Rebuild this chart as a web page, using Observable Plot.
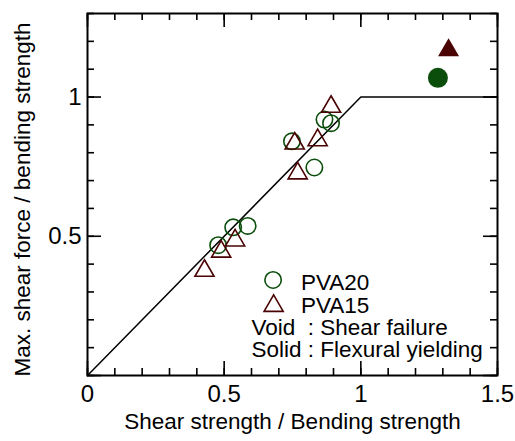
<!DOCTYPE html>
<html><head><meta charset="utf-8">
<script src="https://cdn.jsdelivr.net/npm/d3@7"></script>
<script src="https://cdn.jsdelivr.net/npm/@observablehq/plot@0.6"></script>
<style>
body{margin:0;background:#fff}
svg{display:block}
</style>
</head><body><div id="chart"></div>
<script>
// PVA20 (circles): void = shear failure, solid = flexural yielding
const pva20VoidX = [0.478, 0.533, 0.586, 0.748, 0.830, 0.867, 0.891];
const pva20VoidY = [0.468, 0.532, 0.537, 0.841, 0.747, 0.919, 0.906];
const pva20SolidX = [1.282];
const pva20SolidY = [1.069];
// PVA15 (triangles)
const pva15VoidX = [0.428, 0.489, 0.540, 0.758, 0.769, 0.842, 0.891];
const pva15VoidY = [0.376, 0.445, 0.485, 0.833, 0.726, 0.845, 0.965];
const pva15SolidX = [1.321];
const pva15SolidY = [1.168];
// design line
const lineX = [0, 1, 1.5];
const lineY = [0, 1, 1];
// ticks
const xTickLabels = [0, 0.5, 1, 1.5];
const yTickLabels = [0.5, 1];
const xMinorTicks = d3.range(0, 16).map(i => i / 10);
const yMinorTicks = d3.range(0, 14).map(i => i / 10);
const xMajorTicks = [0, 0.5, 1, 1.5];
const yMajorTicks = [0, 0.5, 1];
// texts
const xTitle = "Shear strength / Bending strength";
const yTitle = "Max. shear force / bending strength";
const legendSeries = ["PVA20", "PVA15"];
const legendNotes = ["Void\u00A0\u00A0: Shear failure", "Solid : Flexural yielding"];

const green = "#0b4d0b";
const maroon = "#4a0303";
const font = "Liberation Sans, Arial, Helvetica, sans-serif";

const W = 515, H = 441, mL = 87, mR = 18, mT = 13, mB = 66;
const iW = W - mL - mR, iH = H - mT - mB;
const minorLen = 7, majorLen = 14;

const pts = (xs, ys) => xs.map((x, i) => ({x, y: ys[i]}));

const chart = Plot.plot({
  width: W, height: H,
  marginLeft: mL, marginRight: mR, marginTop: mT, marginBottom: mB,
  style: {fontFamily: font, background: "#fff", color: "#000"},
  x: {domain: [0, 1.5]},
  y: {domain: [0, 1.3]},
  marks: [
    // inward ticks on all four sides
    Plot.tickX(xMinorTicks, {x: d => d, insetTop: iH - minorLen, stroke: "#000", strokeWidth: 1.6}),
    Plot.tickX(xMinorTicks, {x: d => d, insetBottom: iH - minorLen, stroke: "#000", strokeWidth: 1.6}),
    Plot.tickX(xMajorTicks, {x: d => d, insetTop: iH - majorLen, stroke: "#000", strokeWidth: 1.6}),
    Plot.tickX(xMajorTicks, {x: d => d, insetBottom: iH - majorLen, stroke: "#000", strokeWidth: 1.6}),
    Plot.tickY(yMinorTicks, {y: d => d, insetRight: iW - minorLen, stroke: "#000", strokeWidth: 1.6}),
    Plot.tickY(yMinorTicks, {y: d => d, insetLeft: iW - minorLen, stroke: "#000", strokeWidth: 1.6}),
    Plot.tickY(yMajorTicks, {y: d => d, insetRight: iW - majorLen, stroke: "#000", strokeWidth: 1.6}),
    Plot.tickY(yMajorTicks, {y: d => d, insetLeft: iW - majorLen, stroke: "#000", strokeWidth: 1.6}),
    Plot.frame({stroke: "#000", strokeWidth: 2}),
    Plot.axisX(xTickLabels, {tickSize: 0, tickPadding: 9, fontSize: 24, label: null, tickFormat: d => String(d)}),
    Plot.axisY(yTickLabels, {tickSize: 0, tickPadding: 6, fontSize: 24, label: null, tickFormat: d => String(d)}),
    Plot.text([xTitle], {frameAnchor: "bottom", dy: 53, fontSize: 22.5, text: d => d, fill: "#000"}),
    Plot.text([yTitle], {frameAnchor: "left", textAnchor: "middle", dx: -65, dy: 5, rotate: -90, fontSize: 22.5, text: d => d, fill: "#000"}),
    // design line
    Plot.line(pts(lineX, lineY), {x: "x", y: "y", stroke: "#000", strokeWidth: 1.5}),
    // data
    Plot.dot(pts(pva20VoidX, pva20VoidY), {x: "x", y: "y", r: 8.2, stroke: green, strokeWidth: 1.6, fill: "none"}),
    Plot.dot(pts(pva15VoidX, pva15VoidY), {x: "x", y: "y", r: 7.1, symbol: "triangle", stroke: maroon, strokeWidth: 1.6, fill: "none"}),
    Plot.dot(pts(pva20SolidX, pva20SolidY), {x: "x", y: "y", r: 10, fill: green, stroke: "none"}),
    Plot.dot(pts(pva15SolidX, pva15SolidY), {x: "x", y: "y", r: 7.8, symbol: "triangle", fill: maroon, stroke: "none"}),
    // legend
    Plot.dot([{x: 0.679, y: 0.343}], {x: "x", y: "y", r: 8.2, stroke: green, strokeWidth: 1.6, fill: "none"}),
    Plot.dot([{x: 0.681, y: 0.250}], {x: "x", y: "y", r: 7.1, symbol: "triangle", stroke: maroon, strokeWidth: 1.6, fill: "none"}),
    Plot.text(legendSeries, {x: 0.781, y: (d, i) => [0.334, 0.251][i], text: d => d, textAnchor: "start", fontSize: 22.5, fill: "#000"}),
    Plot.text(legendNotes, {x: 0.600, y: (d, i) => [0.171, 0.092][i], text: d => d, textAnchor: "start", fontSize: 22.5, fill: "#000"})
  ]
});
document.getElementById("chart").appendChild(chart);
</script>
</body></html>
